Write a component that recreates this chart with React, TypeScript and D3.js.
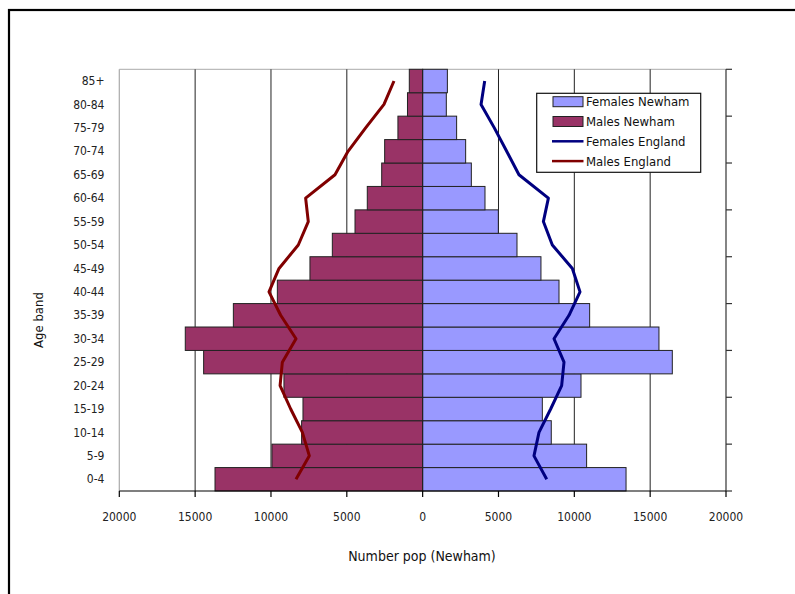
import React from "react";
import * as d3 from "d3";

const categories = ["0-4","5-9","10-14","15-19","20-24","25-29","30-34","35-39","40-44","45-49","50-54","55-59","60-64","65-69","70-74","75-79","80-84","85+"];
const femalesNewham = [13410,10810,8480,7890,10440,16460,15580,11010,8990,7800,6220,4990,4110,3210,2835,2240,1560,1630];
const malesNewham = [13690,9935,7980,7890,9145,14440,15650,12480,9580,7430,5955,4460,3650,2700,2505,1630,1000,880];
const femalesEngland = [8180,7340,7670,8440,9165,9320,8660,9650,10375,9870,8550,7960,8290,6350,5540,4725,3850,4090];
const malesEngland = [8350,7470,7930,8700,9400,9250,8350,9360,10130,9470,8200,7540,7715,5780,4920,3760,2550,1890];
const xTicks = [-20000,-15000,-10000,-5000,0,5000,10000,15000,20000];
const legendItems = [
  { label: "Females Newham", type: "bar", color: "#9999FF" },
  { label: "Males Newham", type: "bar", color: "#993366" },
  { label: "Females England", type: "line", color: "#000080" },
  { label: "Males England", type: "line", color: "#800000" },
];

const FONT = "'Liberation Sans Narrow', 'DejaVu Sans Condensed', 'Open Sans', sans-serif";

export default function App() {
  const W = 795, H = 594;
  const left = 119.3, right = 726, top = 69.3, bottom = 491;
  const x = d3.scaleLinear().domain([-20000, 20000]).range([left, right]);
  const y = d3.scaleBand().domain(categories).range([bottom, top]).padding(0);
  const bw = y.bandwidth();
  const cy = (c: string) => (y(c) as number) + bw / 2;
  const lineGen = d3.line<[number, number]>().x(d => d[0]).y(d => d[1]);
  const fLine = lineGen(categories.map((c, i) => [x(femalesEngland[i]), cy(c)]));
  const mLine = lineGen(categories.map((c, i) => [x(-malesEngland[i]), cy(c)]));
  const rightTicks = categories.filter((_, i) => i % 2 === 0).map(c => (y(c) as number) + bw).concat([top]);
  const fmt = (v: number) => String(Math.abs(v));

  return (
    <svg width={W} height={H} style={{ position: "absolute", left: 0, top: 0, background: "#fff" }} fontFamily={FONT}>
      <rect x={0} y={0} width={W} height={H} fill="#fff" />
      <rect x={9} y={10} width={W + 20} height={H + 20} fill="none" stroke="#000" strokeWidth={2.2} />
      {/* plot border top/left */}
      <line x1={left} x2={right} y1={top} y2={top} stroke="#bbb" strokeWidth={1.2} />
      <line x1={left} x2={left} y1={top} y2={bottom} stroke="#aaa" strokeWidth={1.2} />
      {/* gridlines */}
      {xTicks.filter(t => t !== -20000 && t !== 20000 && t !== 0).map(t => (
        <line key={"g" + t} x1={x(t)} x2={x(t)} y1={top} y2={bottom} stroke="#222" strokeWidth={1} />
      ))}
      {/* bars */}
      {categories.map((c, i) => (
        <g key={"b" + c}>
          <rect x={x(-malesNewham[i])} y={y(c)} width={x(0) - x(-malesNewham[i])} height={bw} fill="#993366" stroke="#222" strokeWidth={1} />
          <rect x={x(0)} y={y(c)} width={x(femalesNewham[i]) - x(0)} height={bw} fill="#9999FF" stroke="#222" strokeWidth={1} />
        </g>
      ))}
      <line x1={x(0)} x2={x(0)} y1={top} y2={bottom} stroke="#222" strokeWidth={1} />
      {/* lines */}
      <path d={mLine || ""} fill="none" stroke="#800000" strokeWidth={3} strokeLinejoin="round" />
      <path d={fLine || ""} fill="none" stroke="#000080" strokeWidth={3} strokeLinejoin="round" />
      {/* right axis */}
      <line x1={right} x2={right} y1={top} y2={bottom} stroke="#333" strokeWidth={1.2} />
      {rightTicks.map((t, i) => (
        <line key={"rt" + i} x1={right} x2={right + 6} y1={t} y2={t} stroke="#333" strokeWidth={1.2} />
      ))}
      {/* bottom axis */}
      <line x1={left} x2={right} y1={bottom} y2={bottom} stroke="#000" strokeWidth={1.2} />
      {xTicks.map(t => (
        <g key={"xt" + t}>
          <line x1={x(t)} x2={x(t)} y1={bottom} y2={bottom + 6} stroke="#000" strokeWidth={1.2} />
          <text x={x(t)} y={bottom + 30} textAnchor="middle" fontSize={12} fill="#222">{fmt(t)}</text>
        </g>
      ))}
      {/* category labels */}
      {categories.map(c => (
        <text key={"cl" + c} x={104.5} y={cy(c)} dy="0.35em" textAnchor="end" fontSize={12} fill="#222">{c}</text>
      ))}
      {/* axis titles */}
      <text x={422} y={561} textAnchor="middle" fontSize={14} fill="#111">Number pop (Newham)</text>
      <text transform="translate(43,320) rotate(-90)" textAnchor="middle" fontSize={13} fill="#111">Age band</text>
      {/* legend */}
      <rect x={536.7} y={93.3} width={164} height={79} fill="#fff" stroke="#111" strokeWidth={1.2} />
      {legendItems.map((it, i) => {
        const ry = 101.7 + i * 19.8;
        return (
          <g key={"lg" + i}>
            {it.type === "bar" ? (
              <rect x={553} y={ry - 5} width={30} height={10} fill={it.color} stroke="#222" strokeWidth={1} />
            ) : (
              <line x1={552} x2={583.5} y1={ry} y2={ry} stroke={it.color} strokeWidth={2.5} />
            )}
            <text x={586} y={ry} dy="0.35em" fontSize={13} fill="#111">{it.label}</text>
          </g>
        );
      })}
    </svg>
  );
}
